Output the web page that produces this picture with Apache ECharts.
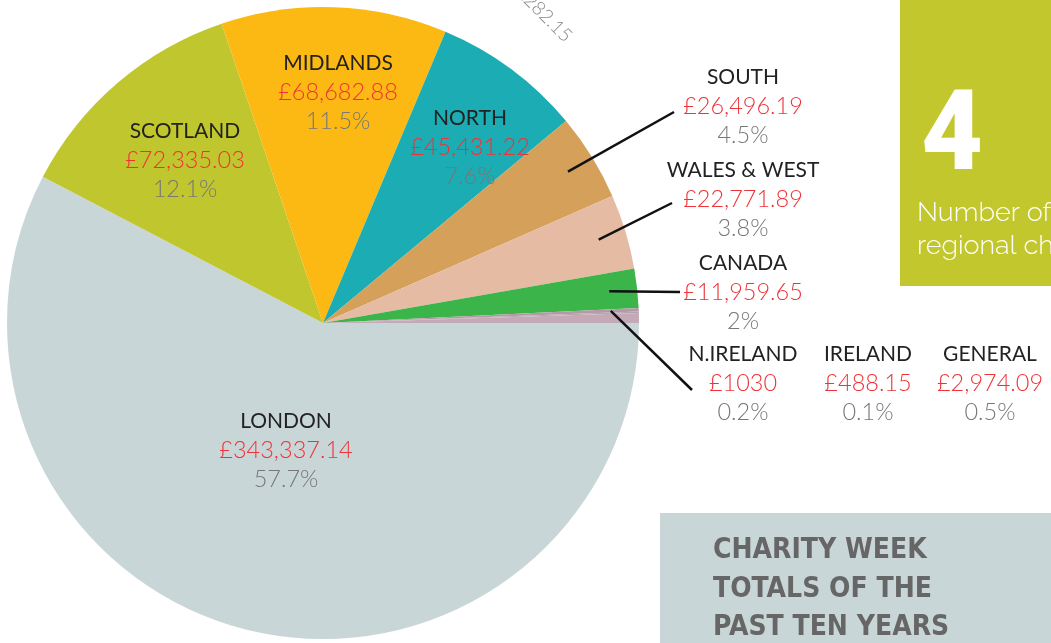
<!DOCTYPE html>
<html>
<head>
    <meta charset="utf-8">
    <title>Charity Week totals of the past ten years</title>
    <script src="https://cdn.jsdelivr.net/npm/echarts@6/dist/echarts.min.js"></script>
    <style>
        body, html { margin: 0; padding: 0; height: 100%; overflow: hidden; background: #fff; }
        #main { width: 1051px; height: 643px; }
    </style>
</head>
<body>
    <div id="main"></div>
    <script>
        // 数据
        const regions = ['LONDON', 'SCOTLAND', 'MIDLANDS', 'NORTH', 'SOUTH', 'WALES & WEST', 'CANADA', 'N.IRELAND', 'IRELAND', 'GENERAL'];
        const totals = [343337.14, 72335.03, 68682.88, 45431.22, 26496.19, 22771.89, 11959.65, 1030, 488.15, 2974.09];
        const shares = [57.7, 12.1, 11.5, 7.6, 4.5, 3.8, 2, 0.2, 0.1, 0.5];
        const colors = ['#c9d6d7', '#c0c62e', '#fdb913', '#1badb3', '#d4a05a', '#e6bba3', '#3bb44a', '#b49aa8', '#b8a3ae', '#c4aab6'];

        // 标签位置（布局）
        const labelPos = [[286, 450], [185, 160], [338, 92], [470, 147], [743, 106], [743, 199], [743, 292], [743, 383], [868, 383], [990, 383]];
        const lineEnd = { 4: [674, 112], 5: [672, 203], 6: [680, 292], 7: [692, 390] };
        const C = [323, 323], R = 316;

        var myChart = echarts.init(document.getElementById('main'));

        function money(v) {
            if (Number.isInteger(v)) return '£' + v;
            return '£' + v.toLocaleString('en-GB', { minimumFractionDigits: 2, maximumFractionDigits: 2 });
        }

        // 每块扇形的中间角度（顺时针，从3点钟开始）
        const sum = totals.reduce((a, b) => a + b, 0);
        const midAngle = [];
        totals.reduce((acc, v) => { midAngle.push((acc + v / 2) / sum * 2 * Math.PI); return acc + v; }, 0);

        // 引导线：从扇形内部指向标签
        const leaderLines = Object.keys(lineEnd).map(k => {
            const a = midAngle[k], r = R - 28, e = lineEnd[k];
            return {
                type: 'line', z: 10,
                shape: { x1: C[0] + r * Math.cos(a), y1: C[1] + r * Math.sin(a), x2: e[0], y2: e[1] },
                style: { stroke: '#111', lineWidth: 2.5 }
            };
        });

        const font = 'Lato, "Open Sans", sans-serif';
        const boxFont = '600 28px "DejaVu Sans Condensed", sans-serif';

        const option = {
            backgroundColor: '#fff',
            animation: false,
            graphic: [
                { type: 'rect', shape: { x: 900, y: 0, width: 151, height: 286 }, style: { fill: '#c2c72e' } },
                { type: 'text', x: 952, y: 141, scaleX: 0.95, style: { text: '4', fill: '#fff', font: '900 112px Roboto, sans-serif', textAlign: 'center', textVerticalAlign: 'middle' } },
                { type: 'text', x: 917, y: 213, style: { text: 'Number of', fill: '#fff', font: '300 27px Raleway, Lato, sans-serif', textVerticalAlign: 'middle' } },
                { type: 'text', x: 917, y: 246, style: { text: 'regional charities', fill: '#fff', font: '300 27px Raleway, Lato, sans-serif', textVerticalAlign: 'middle' } },
                { type: 'rect', shape: { x: 660, y: 513, width: 391, height: 130 }, style: { fill: '#c9d6d7' } },
                { type: 'text', x: 713, y: 551, style: { text: 'CHARITY WEEK', fill: '#666', font: boxFont, textVerticalAlign: 'middle' } },
                { type: 'text', x: 713, y: 590, style: { text: 'TOTALS OF THE', fill: '#666', font: boxFont, textVerticalAlign: 'middle' } },
                { type: 'text', x: 713, y: 628, style: { text: 'PAST TEN YEARS', fill: '#666', font: boxFont, textVerticalAlign: 'middle' } },
                { type: 'text', x: 544, y: 14, rotation: -45 * Math.PI / 180, style: { text: '£282.15', fill: '#888', font: '300 19px ' + font, textAlign: 'center', textVerticalAlign: 'middle' } }
            ].concat(leaderLines),
            series: [{
                type: 'pie',
                center: C,
                radius: R,
                startAngle: 0,
                clockwise: true,
                avoidLabelOverlap: false,
                itemStyle: { borderWidth: 0 },
                emphasis: { disabled: true },
                label: {
                    show: true,
                    position: 'outside',
                    formatter: p => '{n|' + p.name + '}\n{v|' + money(p.value) + '}\n{p|' + shares[p.dataIndex] + '%}',
                    align: 'center',
                    rich: {
                        n: { color: '#222', fontSize: 21, fontFamily: font, lineHeight: 29, align: 'center' },
                        v: { color: '#ee3338', fontSize: 23.5, fontFamily: font, fontWeight: 300, lineHeight: 29, align: 'center' },
                        p: { color: '#777', fontSize: 23.5, fontFamily: font, fontWeight: 300, lineHeight: 29, align: 'center' }
                    }
                },
                labelLine: { show: false },
                labelLayout: function (params) {
                    const pos = labelPos[params.dataIndex];
                    return { x: pos[0], y: pos[1], align: 'center', verticalAlign: 'middle' };
                },
                data: regions.map((name, i) => ({
                    name: name,
                    value: totals[i],
                    itemStyle: { color: colors[i] }
                }))
            }]
        };

        myChart.setOption(option);
    </script>
</body>
</html>
